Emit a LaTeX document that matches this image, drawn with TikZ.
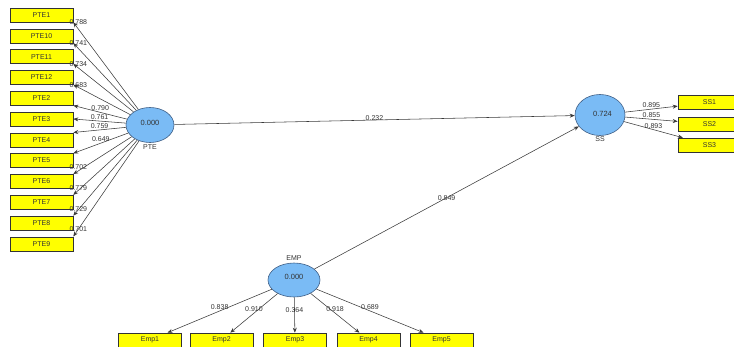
\documentclass[tikz,border=0pt]{standalone}
\usepackage{fontspec}
\setmainfont{Liberation Sans}
\usepackage{xcolor}
\usetikzlibrary{positioning, shapes.geometric, arrows.meta}
\definecolor{plsink}{HTML}{333333}
\definecolor{plsline}{HTML}{3A3A3A}
\definecolor{plsyellow}{HTML}{FFFF00}
\definecolor{plsblue}{HTML}{7ABBF5}
\definecolor{plsedge}{HTML}{3F5F86}

\begin{document}
\begin{tikzpicture}[x=1pt, y=-1pt,
  ind/.style={draw=plsink, fill=plsyellow, line width=0.6pt, minimum width=63pt, minimum height=14pt, inner sep=0pt, font=\fontsize{7}{8}\selectfont, text=plsink},
  lv/.style={ellipse, draw=plsedge, fill=plsblue, line width=0.6pt, minimum width=50pt, minimum height=35pt, inner sep=0pt, font=\fontsize{7.5}{8}\selectfont, text=plsink},
  lvname/.style={font=\fontsize{7}{8}\selectfont, text=plsink, inner sep=1pt},
  lbl/.style={font=\fontsize{7}{8}\selectfont, text=plsink, inner sep=1pt},
  arr/.style={-{Stealth[length=5pt, width=4pt]}, plsline, line width=0.55pt}
]
  \useasboundingbox (0,0) rectangle (734,346);

  % latent variables
  \node[lv, minimum width=48pt, label={[lvname, label distance=1pt]below:PTE}] (PTE) at (150,125) {\raisebox{5pt}{0.000}};
  \node[lv, minimum height=41pt, label={[lvname, label distance=0pt]below:SS}] (SS) at (600,115) {\hspace{5pt}\raisebox{3pt}{0.724}};
  \node[lv, minimum width=52pt, minimum height=34pt, label={[lvname, label distance=1pt]above:EMP}] (EMP) at (294,280) {\raisebox{7pt}{0.000}};

  % PTE indicators
  \node[ind] (PTE1)  at (41.5,15)    {PTE1};
  \node[ind] (PTE10) at (41.5,35.8)  {PTE10};
  \node[ind] (PTE11) at (41.5,56.6)  {PTE11};
  \node[ind] (PTE12) at (41.5,77.4)  {PTE12};
  \node[ind] (PTE2)  at (41.5,98.2)  {PTE2};
  \node[ind] (PTE3)  at (41.5,119)   {PTE3};
  \node[ind] (PTE4)  at (41.5,139.8) {PTE4};
  \node[ind] (PTE5)  at (41.5,160.6) {PTE5};
  \node[ind] (PTE6)  at (41.5,181.4) {PTE6};
  \node[ind] (PTE7)  at (41.5,202.2) {PTE7};
  \node[ind] (PTE8)  at (41.5,223)   {PTE8};
  \node[ind] (PTE9)  at (41.5,243.8) {PTE9};

  % SS indicators
  \node[ind] (SS1) at (709.5,102.5) {SS1};
  \node[ind] (SS2) at (709.5,124)   {SS2};
  \node[ind] (SS3) at (709.5,145)   {SS3};

  % EMP indicators
  \node[ind] (Emp1) at (150,340)   {Emp1};
  \node[ind] (Emp2) at (221.5,340) {Emp2};
  \node[ind] (Emp3) at (295,340)   {Emp3};
  \node[ind] (Emp4) at (368.5,340) {Emp4};
  \node[ind] (Emp5) at (441.5,340) {Emp5};

  % outer loadings PTE
  \draw[arr] (PTE) -- (PTE1.south east)  node[lbl, at end, anchor=west, xshift=-5pt] {0.788};
  \draw[arr] (PTE) -- (PTE10.south east) node[lbl, at end, anchor=west, xshift=-5pt] {0.741};
  \draw[arr] (PTE) -- (PTE11.south east) node[lbl, at end, anchor=west, xshift=-5pt] {0.734};
  \draw[arr] (PTE) -- (PTE12.south east) node[lbl, at end, anchor=west, xshift=-5pt] {0.683};
  \draw[arr] (PTE) -- (PTE2.south east) node[lbl, pos=0.5, above=0pt] {0.790};
  \draw[arr] (PTE) -- (PTE3.east) node[lbl, pos=0.5, above=0pt] {0.761};
  \draw[arr] (PTE) -- (PTE4.north east) node[lbl, pos=0.5, above=0pt] {0.759};
  \draw[arr] (PTE) -- (PTE5.north east) node[lbl, pos=0.5, above=0pt] {0.649};
  \draw[arr] (PTE) -- (PTE6.north east) node[lbl, at end, anchor=west, xshift=-5pt, yshift=7pt] {0.702};
  \draw[arr] (PTE) -- (PTE7.north east) node[lbl, at end, anchor=west, xshift=-5pt, yshift=7pt] {0.779};
  \draw[arr] (PTE) -- (PTE8.north east) node[lbl, at end, anchor=west, xshift=-5pt, yshift=7pt] {0.729};
  \draw[arr] (PTE) -- (PTE9.north east) node[lbl, at end, anchor=west, xshift=-5pt, yshift=7pt] {0.701};

  % outer loadings SS
  \draw[arr] (SS) -- (SS1) node[lbl, pos=0.5, above=0pt] {0.895};
  \draw[arr] (SS) -- (SS2) node[lbl, pos=0.5, above=0pt] {0.855};
  \draw[arr] (SS) -- (SS3) node[lbl, pos=0.5, above=0pt] {0.893};

  % outer loadings EMP
  \draw[arr] (EMP) -- (Emp1) node[lbl, pos=0.5, above=0pt] {0.838};
  \draw[arr] (EMP) -- (Emp2) node[lbl, pos=0.5, above=0pt] {0.910};
  \draw[arr] (EMP) -- (Emp3) node[lbl, pos=0.36] {0.364};
  \draw[arr] (EMP) -- (Emp4) node[lbl, pos=0.5, above=0pt] {0.918};
  \draw[arr] (EMP) -- (Emp5) node[lbl, pos=0.5, above=0pt] {0.689};

  % path coefficients
  \draw[arr] (PTE) -- (SS) node[lbl, pos=0.5, above=-2pt] {0.232};
  \draw[arr] (EMP) -- (SS) node[lbl, pos=0.5] {0.849};
\end{tikzpicture}
\end{document}
